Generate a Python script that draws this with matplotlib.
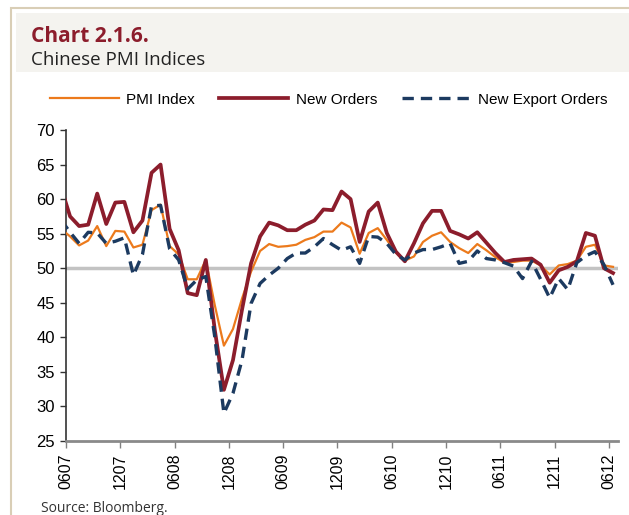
import numpy as np
import matplotlib
matplotlib.use("Agg")
import matplotlib.pyplot as plt
from matplotlib.patches import Rectangle

# Monthly data: May 2007 (clipped at the axis edge) through Jun 2012
pmi_index = [55.7, 54.6, 53.3, 54.0, 56.1, 53.2, 55.4, 55.3,
             53.0, 53.4, 58.4, 59.2, 53.2, 52.0, 48.4, 48.4, 51.2, 44.6, 38.8, 41.2,
             45.6, 49.5, 52.5, 53.5, 53.1, 53.2, 53.4, 54.1, 54.5, 55.3, 55.3, 56.6,
             55.9, 52.1, 55.1, 55.8, 54.1, 52.3, 51.1, 51.7, 53.8, 54.7, 55.2, 53.8,
             52.9, 52.2, 53.5, 52.6, 51.6, 50.8, 50.9, 51.1, 51.1, 50.4, 49.1, 50.4,
             50.6, 51.1, 53.1, 53.4, 50.4, 50.2]
new_orders = [61.7, 57.5, 56.1, 56.3, 60.8, 56.4, 59.5, 59.6,
              55.2, 56.9, 63.8, 65.0, 55.7, 52.6, 46.4, 46.1, 51.2, 41.0, 32.4, 36.7,
              44.0, 50.7, 54.6, 56.6, 56.2, 55.5, 55.5, 56.3, 56.9, 58.5, 58.4, 61.1,
              60.0, 53.8, 58.2, 59.5, 55.1, 52.4, 51.0, 53.6, 56.5, 58.3, 58.3, 55.4,
              54.9, 54.3, 55.2, 53.7, 52.2, 50.9, 51.2, 51.3, 51.4, 50.5, 47.9, 49.7,
              50.2, 51.0, 55.1, 54.7, 50.0, 49.3]
new_export_orders = [57.0, 55.2, 53.6, 55.2, 55.1, 53.6, 53.9, 54.4,
                     49.0, 52.0, 59.0, 59.1, 52.8, 51.2, 47.0, 48.3, 48.8, 40.0, 29.0, 31.9,
                     36.7, 44.9, 47.8, 49.0, 50.0, 51.4, 52.2, 52.2, 53.1, 54.3, 53.4, 52.6,
                     53.1, 50.7, 54.6, 54.5, 53.6, 52.0, 51.2, 52.2, 52.7, 52.7, 53.1, 53.6,
                     50.7, 51.0, 52.5, 51.4, 51.2, 50.8, 50.3, 48.5, 51.0, 48.4, 45.7, 48.5,
                     46.9, 50.8, 51.8, 52.4, 50.5, 47.6]
tick_labels = ["0607", "1207", "0608", "1208", "0609", "1209",
               "0610", "1210", "0611", "1211", "0612"]
series_names = ["PMI Index", "New Orders", "New Export Orders"]

ORANGE = "#ec7a1c"
RED = "#8c1d2c"
NAVY = "#1c3a60"

plt.rcParams['font.family'] = ['Liberation Sans', 'DejaVu Sans']
TITLE_FONT = ["Open Sans", "DejaVu Sans"]

fig = plt.figure(figsize=(6.29, 5.15), dpi=100)

W, H = 629, 515
def fx(px): return px / W
def fy(py): return 1 - py / H

fig.patches.append(Rectangle((fx(10.5), fy(520)), fx(640), fy(8) - fy(520),
                             transform=fig.transFigure, fill=False,
                             edgecolor="#d9ceb6", linewidth=1.5, zorder=0))
fig.patches.append(Rectangle((fx(16), fy(72)), fx(620), fy(13) - fy(72),
                             transform=fig.transFigure, facecolor="#f4f3ef",
                             edgecolor="none", zorder=0))
fig.text(fx(31), fy(36), "Chart 2.1.6.", fontsize=15, fontweight="bold",
         color=RED, family=TITLE_FONT, va="center", ha="left")
fig.text(fx(31), fy(60), "Chinese PMI Indices", fontsize=13.5,
         color="#222222", family=TITLE_FONT, va="center", ha="left")
fig.text(fx(41), fy(508), "Source: Bloomberg.", fontsize=10,
         color="#333333", family=TITLE_FONT, va="center", ha="left")

ax = fig.add_axes([fx(66), fy(441), fx(618) - fx(66), fy(130) - fy(441)])

n = len(pmi_index)
x = np.arange(n) - 1 + 0.45  # month index (Jun 2007 = 0), plotted mid-month

ax.axhline(50, color="#c3c3c3", linewidth=2.5, zorder=1)
ax.plot(x, pmi_index, color=ORANGE, linewidth=1.6, label=series_names[0], zorder=3)
ax.plot(x, new_orders, color=RED, linewidth=2.7, label=series_names[1], zorder=4)
ax.plot(x, new_export_orders, color=NAVY, linewidth=2.4, linestyle=(0, (3.4, 2.1)),
        label=series_names[2], zorder=5)

ax.set_xlim(0, 61)
ax.set_ylim(25, 70)
ax.set_yticks(np.arange(25, 71, 5))
ax.set_xticks(np.arange(0, 61, 6))
ax.set_xticklabels(tick_labels, rotation=90, fontsize=11.5)
ax.tick_params(axis="y", labelsize=12, length=4, width=1, color="#333333", pad=4)
ax.tick_params(axis="x", length=5, width=1, color="#808080", pad=4)

for s in ["top", "right"]:
    ax.spines[s].set_visible(False)
ax.spines["left"].set_color("#333333")
ax.spines["left"].set_linewidth(1.2)
ax.spines["bottom"].set_color("#8a8a8a")
ax.spines["bottom"].set_linewidth(2)

leg = ax.legend(loc="center", bbox_to_anchor=(0.476, 1.097), ncol=3, frameon=False,
                fontsize=11, handlelength=4.5, columnspacing=1.6, handletextpad=0.5)

fig.savefig("out.png", dpi=100)
